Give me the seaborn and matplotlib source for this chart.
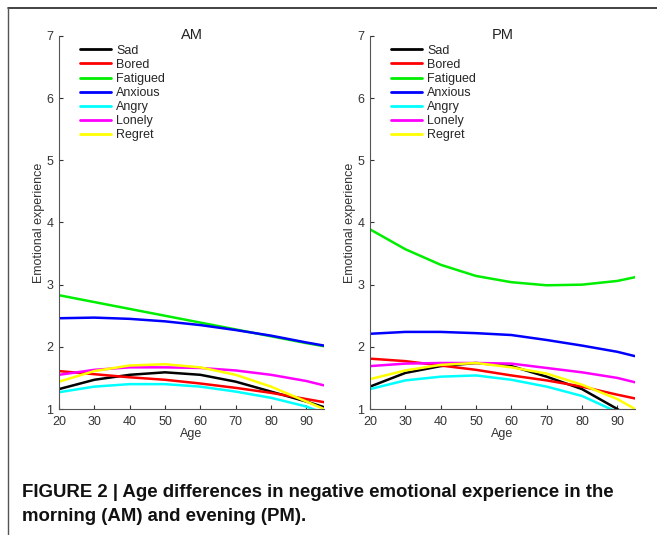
import numpy as np
import pandas as pd
import matplotlib
matplotlib.use("Agg")
import matplotlib.pyplot as plt
from matplotlib.lines import Line2D
import seaborn as sns

ages = [20, 30, 40, 50, 60, 70, 80, 90, 95]
emotions = ["Sad", "Bored", "Fatigued", "Anxious", "Angry", "Lonely", "Regret"]
colors = ["#000000", "#ff0000", "#00ee00", "#0000ff", "#00ffff", "#ff00ff", "#ffff00"]

am_sad = [1.32, 1.47, 1.55, 1.59, 1.55, 1.44, 1.28, 1.12, 1.03]
am_bored = [1.61, 1.56, 1.51, 1.47, 1.41, 1.34, 1.26, 1.16, 1.11]
am_fatigued = [2.83, 2.72, 2.61, 2.50, 2.39, 2.28, 2.17, 2.06, 2.01]
am_anxious = [2.46, 2.47, 2.45, 2.41, 2.35, 2.27, 2.18, 2.07, 2.02]
am_angry = [1.27, 1.36, 1.40, 1.40, 1.36, 1.28, 1.18, 1.04, 0.93]
am_lonely = [1.55, 1.63, 1.67, 1.67, 1.66, 1.62, 1.55, 1.45, 1.38]
am_regret = [1.44, 1.61, 1.70, 1.72, 1.67, 1.55, 1.36, 1.12, 1.00]

pm_sad = [1.36, 1.58, 1.69, 1.74, 1.69, 1.52, 1.32, 1.00, 0.80]
pm_bored = [1.81, 1.77, 1.70, 1.63, 1.54, 1.46, 1.36, 1.23, 1.17]
pm_fatigued = [3.89, 3.57, 3.32, 3.14, 3.04, 2.99, 3.00, 3.06, 3.12]
pm_anxious = [2.21, 2.24, 2.24, 2.22, 2.19, 2.11, 2.02, 1.92, 1.85]
pm_angry = [1.32, 1.46, 1.52, 1.54, 1.47, 1.36, 1.21, 0.95, 0.80]
pm_lonely = [1.69, 1.73, 1.74, 1.74, 1.73, 1.66, 1.59, 1.50, 1.43]
pm_regret = [1.48, 1.62, 1.71, 1.74, 1.67, 1.57, 1.39, 1.16, 1.00]

am_vals = [am_sad, am_bored, am_fatigued, am_anxious, am_angry, am_lonely, am_regret]
pm_vals = [pm_sad, pm_bored, pm_fatigued, pm_anxious, pm_angry, pm_lonely, pm_regret]


def make_df(vals):
    rows = []
    for emo, v in zip(emotions, vals):
        for a, y in zip(ages, v):
            rows.append({"Age": a, "value": y, "Emotion": emo})
    return pd.DataFrame(rows)


sns.set_style("white")
plt.rcParams["font.family"] = ["Liberation Sans", "DejaVu Sans"]

fig = plt.figure(figsize=(6.57, 5.35), dpi=100)
W, H = 657, 535
panels = [("AM", am_vals, 59), ("PM", pm_vals, 370)]
for title, vals, x0 in panels:
    ax = fig.add_axes([x0 / W, 1 - 409 / H, 265 / W, (409 - 36) / H])
    df = make_df(vals)
    sns.lineplot(data=df, x="Age", y="value", hue="Emotion", hue_order=emotions,
                 palette=colors, linewidth=1.8, ax=ax, legend=True)
    ax.set_xlim(20, 95)
    ax.set_ylim(1, 7)
    ax.set_xticks([20, 30, 40, 50, 60, 70, 80, 90])
    ax.set_yticks([1, 2, 3, 4, 5, 6, 7])
    ax.tick_params(direction="in", length=3, labelsize=9, colors="#333333",
                   left=True, bottom=True)
    ax.tick_params(axis="y", pad=4)
    ax.tick_params(axis="x", pad=5)
    for s in ["top", "right"]:
        ax.spines[s].set_visible(False)
    for s in ["left", "bottom"]:
        ax.spines[s].set_color("#555555")
        ax.spines[s].set_linewidth(0.8)
    ax.set_xlabel("Age", fontsize=9, color="#333333", labelpad=0)
    ax.set_ylabel("Emotional experience", fontsize=9, color="#333333", labelpad=1)
    ax.set_title(title, fontsize=10.5, color="#222222", pad=-2)
    leg = ax.legend(loc="upper left", frameon=False, fontsize=9, handlelength=2.5,
                    labelspacing=0.17, borderaxespad=0.0, handletextpad=0.4,
                    bbox_to_anchor=(0.06, 0.99))
    for line in leg.get_lines():
        line.set_linewidth(2.0)

fig.add_artist(Line2D([8 / W, 1], [1 - 8 / H, 1 - 8 / H], color="#222222", linewidth=1.2))
fig.add_artist(Line2D([8 / W, 8 / W], [0, 1 - 8 / H], color="#555555", linewidth=1.0))

cap_font = ["Liberation Sans", "DejaVu Sans"]
fig.text(22 / W, 1 - 497 / H, "FIGURE 2 | Age differences in negative emotional experience in the",
         fontsize=13.4, fontweight="bold", family=cap_font, color="#111111")
fig.text(22 / W, 1 - 521 / H, "morning (AM) and evening (PM).",
         fontsize=13.4, fontweight="bold", family=cap_font, color="#111111")

fig.savefig("out.png", dpi=100)
